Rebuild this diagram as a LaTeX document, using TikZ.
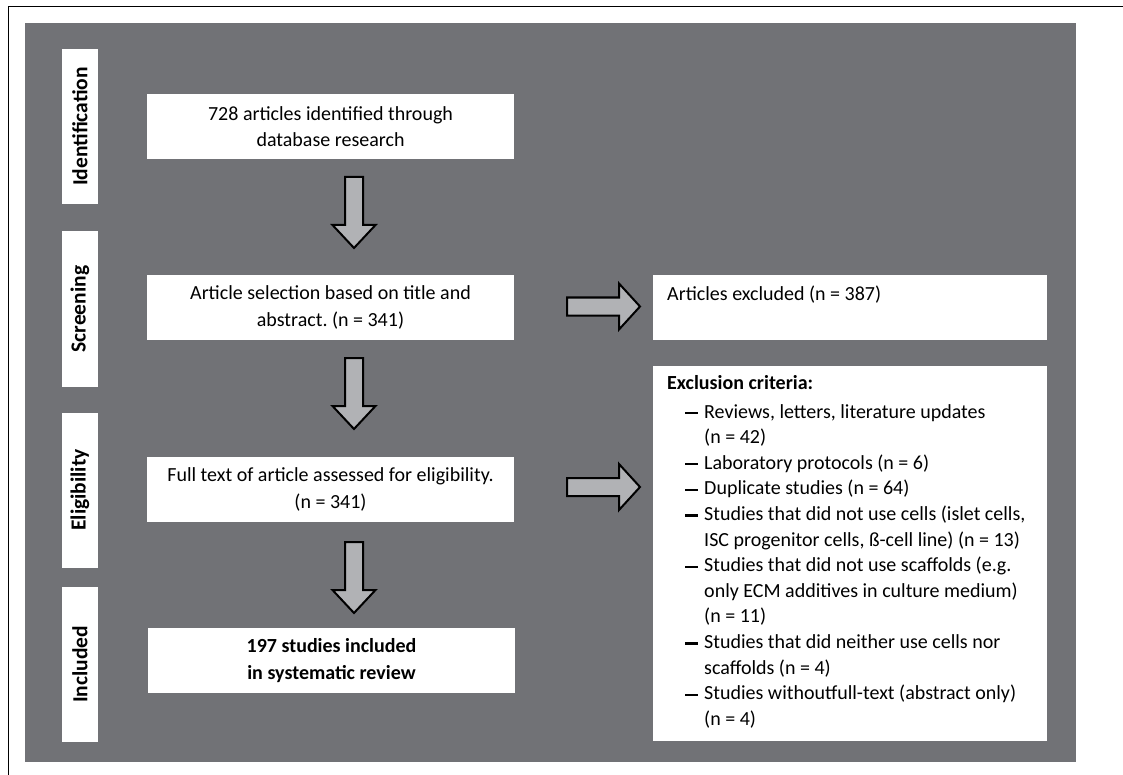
\documentclass[tikz,border=0pt]{standalone}
\usepackage{fontspec}
\setmainfont{Carlito}
\frenchspacing
\begin{document}
\begin{tikzpicture}[x=1pt,y=-1pt,
  txt/.style={font=\fontsize{20}{26.5}\selectfont},
  mainbox/.style={txt,fill=white,minimum width=367pt,minimum height=65pt,inner sep=0pt,align=center},
  stagebox/.style={fill=white,minimum width=155pt,minimum height=36pt,inner sep=0pt,rotate=90,font=\fontsize{21.5}{24}\selectfont\bfseries},
  blockarrow/.style={fill=arrowgray,draw=black,line width=2pt,line join=miter},
  line/.style={txt,anchor=base west,inner sep=0pt}]
\definecolor{bggray}{HTML}{717276}
\definecolor{arrowgray}{HTML}{B1B2B5}
\useasboundingbox (0,0) rectangle (1123,775);
% outer frame
\draw[line width=1pt] (8,775) -- (8,7) -- (1123,7);
% background
\fill[bggray] (25,23) rectangle (1076,762);
% stage labels
\node[stagebox] (sId) at (80,126.5) {Identification};
\node[stagebox] (sSc) at (80,309) {Screening};
\node[stagebox] (sEl) at (80,490) {Eligibility};
\node[stagebox] (sIn) at (80,664.5) {Included};
% main boxes
\node[mainbox] (b1) at (330.5,126.5) {728 articles identified through\\database research};
\node[mainbox] (b2) at (330.5,307.5) {Article selection based on title and\\abstract. (n = 341)};
\node[mainbox] (b3) at (330.5,489.5) {Full text of article assessed for eligibility.\\(n = 341)};
\node[mainbox,font=\fontsize{20}{26.5}\selectfont\bfseries] (b4) at (331.5,660.5) {197 studies included\\in systematic review};
% right boxes
\node[fill=white,minimum width=394pt,minimum height=65pt,inner sep=0pt] (ex) at (850,307.5) {};
\node[txt,anchor=base west,inner sep=0pt] (exT) at (667,301) {Articles excluded (n = 387)};
\node[fill=white,minimum width=394pt,minimum height=375pt,inner sep=0pt] (cr) at (850,553.5) {};
\node[line,font=\fontsize{20}{26.5}\selectfont\bfseries] (crH) at (667,389) {Exclusion criteria:};
\foreach \t [count=\i] in {{Reviews, letters, literature updates},{(n = 42)},{Laboratory protocols (n = 6)},{Duplicate studies (n = 64)},{Studies that did not use cells (islet cells,},{ISC progenitor cells, ß-cell line) (n = 13)},{Studies that did not use scaffolds (e.g.},{only ECM additives in culture medium)},{(n = 11)},{Studies that did neither use cells nor},{scaffolds (n = 4)},{Studies withoutfull-text (abstract only)},{(n = 4)}}
  \node[line] (l\i) at (704,{418+(\i-1)*25.6}) {\t};
\foreach \i in {1,3,4,5,7,10,12}
  \fill (685,{412+(\i-1)*25.6}) rectangle (698,{414.2+(\i-1)*25.6});
% down arrows
\foreach \ty in {177,358,542}
  \filldraw[blockarrow] (345,\ty) -- (363,\ty) -- (363,\ty+48) -- (375.5,\ty+48) -- (354,\ty+71) -- (332.5,\ty+48) -- (345,\ty+48) -- cycle;
% right arrows
\foreach \cy in {306.5,487}
  \filldraw[blockarrow] (567,\cy-9) -- (619,\cy-9) -- (619,\cy-23) -- (640,\cy) -- (619,\cy+23) -- (619,\cy+9) -- (567,\cy+9) -- cycle;
\end{tikzpicture}
\end{document}
